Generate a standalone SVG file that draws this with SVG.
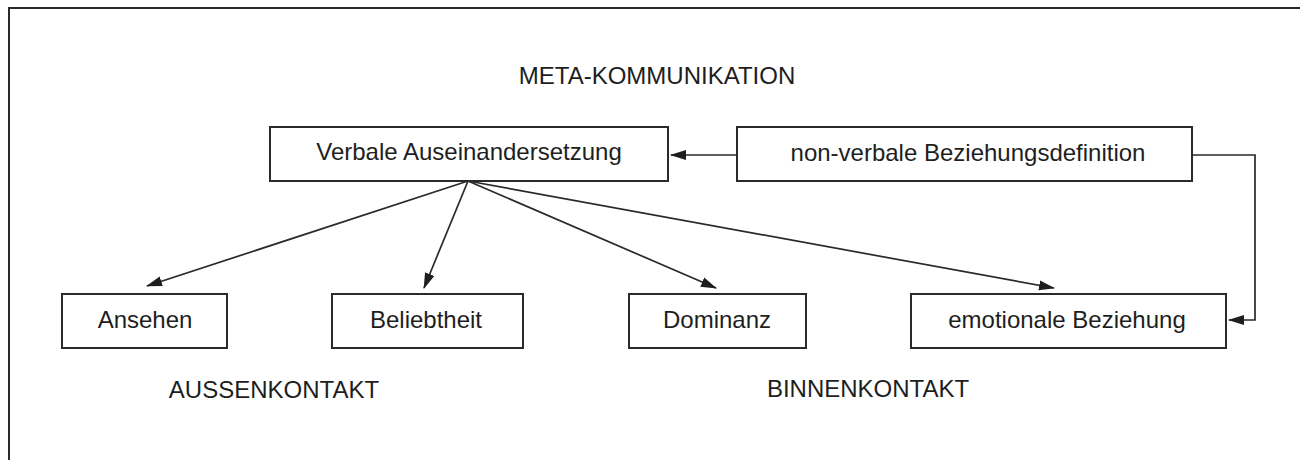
<svg xmlns="http://www.w3.org/2000/svg" width="1300" height="463" viewBox="0 0 1300 463">
  <style>
    .frame { fill: none; stroke: #2a2a2a; stroke-width: 2; }
    .box { fill: #ffffff; stroke: #2a2a2a; stroke-width: 2; }
    .label { font-family: "Liberation Sans", Arial, sans-serif; font-size: 24px; fill: #1e1e1e; text-anchor: middle; }
    .edge { fill: none; stroke: #2a2a2a; stroke-width: 1.7; }
  </style>
  <defs>
    <marker id="arrow" markerUnits="userSpaceOnUse" markerWidth="16" markerHeight="12" refX="15" refY="6" orient="auto">
      <path d="M0,1 L16,6 L0,11 Z" fill="#1e1e1e"/>
    </marker>
  </defs>

  <rect width="1300" height="463" fill="#ffffff"/>

  <!-- open frame: top and left rules -->
  <path class="frame" d="M9,460 L9,8 L1300,8"/>

  <!-- captions -->
  <text class="label" x="657" y="84">META-KOMMUNIKATION</text>
  <text class="label" x="274" y="398">AUSSENKONTAKT</text>
  <text class="label" x="868" y="397">BINNENKONTAKT</text>

  <g id="verbale">
    <rect class="box" x="270" y="127" width="398" height="54"/>
    <text class="label" x="469" y="160">Verbale Auseinandersetzung</text>
  </g>
  <g id="nonverbale">
    <rect class="box" x="737" y="127" width="455" height="54"/>
    <text class="label" x="968" y="161">non-verbale Beziehungsdefinition</text>
  </g>
  <g id="ansehen">
    <rect class="box" x="62" y="294" width="165" height="54"/>
    <text class="label" x="145" y="328">Ansehen</text>
  </g>
  <g id="beliebtheit">
    <rect class="box" x="332" y="294" width="191" height="54"/>
    <text class="label" x="426" y="328">Beliebtheit</text>
  </g>
  <g id="dominanz">
    <rect class="box" x="629" y="294" width="177" height="54"/>
    <text class="label" x="717" y="328">Dominanz</text>
  </g>
  <g id="emotionale">
    <rect class="box" x="911" y="294" width="315" height="54"/>
    <text class="label" x="1067" y="328">emotionale Beziehung</text>
  </g>

  <g id="connectors">
    <path class="edge" d="M737,155 L671,155" marker-end="url(#arrow)"/>
    <path class="edge" d="M1192,155 L1255,155 L1255,320 L1229,320" marker-end="url(#arrow)"/>
    <path class="edge" d="M468,181 L147,286" marker-end="url(#arrow)"/>
    <path class="edge" d="M468,181 L424,288" marker-end="url(#arrow)"/>
    <path class="edge" d="M468,181 L716,288" marker-end="url(#arrow)"/>
    <path class="edge" d="M468,181 L1054,288" marker-end="url(#arrow)"/>
  </g>
</svg>
